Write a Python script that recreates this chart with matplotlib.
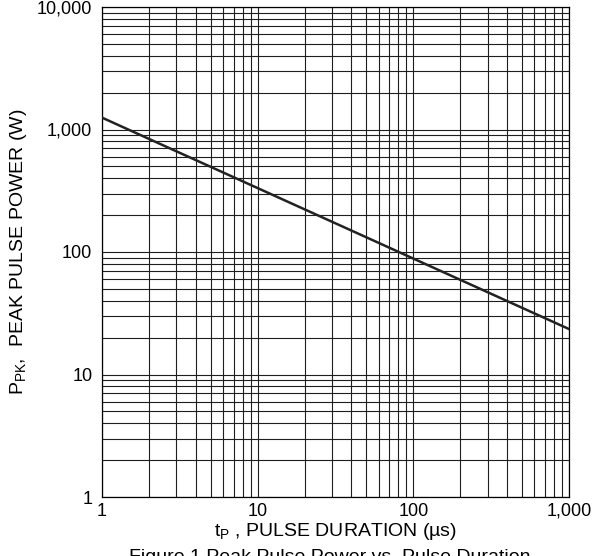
import matplotlib
matplotlib.use("Agg")
import matplotlib.pyplot as plt
from matplotlib.ticker import FixedLocator, FixedFormatter, NullFormatter, LogLocator

# Data
pulse_duration_us = [1, 1000]
peak_power_w = [1250, 23.5]

x_ticks = [1, 10, 100, 1000]
x_tick_labels = ["1", "10", "100", "1,000"]
y_ticks = [1, 10, 100, 1000, 10000]
y_tick_labels = ["1", "10", "100", "1,000", "10,000"]

plt.rcParams['font.family'] = ['Liberation Sans', 'DejaVu Sans']
plt.rcParams['mathtext.fontset'] = 'custom'
plt.rcParams['mathtext.rm'] = 'Liberation Sans'

fig = plt.figure(figsize=(5.95, 5.56), dpi=100)
ax = fig.add_axes([102/595, 59/556, 467/595, 490/556])

ax.set_xscale('log')
ax.set_yscale('log')
ax.set_xlim(1, 1000)
ax.set_ylim(1, 10000)

ax.plot(pulse_duration_us, peak_power_w, color='#222222', linewidth=1.8, zorder=3)

ax.xaxis.set_major_locator(FixedLocator(x_ticks))
ax.xaxis.set_major_formatter(FixedFormatter(x_tick_labels))
ax.yaxis.set_major_locator(FixedLocator(y_ticks))
ax.yaxis.set_major_formatter(FixedFormatter(y_tick_labels))
ax.xaxis.set_minor_locator(LogLocator(base=10, subs=range(2, 10)))
ax.yaxis.set_minor_locator(LogLocator(base=10, subs=range(2, 10)))
ax.xaxis.set_minor_formatter(NullFormatter())
ax.yaxis.set_minor_formatter(NullFormatter())

ax.grid(True, which='both', color='#1e1e1e', linewidth=0.8)
ax.tick_params(which='both', length=0, labelsize=13, colors='black')
ax.tick_params(axis='y', pad=7)
ax.tick_params(axis='x', pad=4)
for s in ax.spines.values():
    s.set_color('black')
    s.set_linewidth(0.9)

ax.set_xlabel(r't$_{\mathregular{P}}$ , PULSE DURATION (µs)', fontsize=14, labelpad=1)
ax.set_ylabel(r'P$_{\mathregular{PK}}$,  PEAK PULSE POWER (W)', fontsize=14, labelpad=6)

fig.text(0.555, -0.01, 'Figure 1 Peak Pulse Power vs. Pulse Duration',
         ha='center', va='baseline', fontsize=14)

fig.savefig('out.png', dpi=100)
